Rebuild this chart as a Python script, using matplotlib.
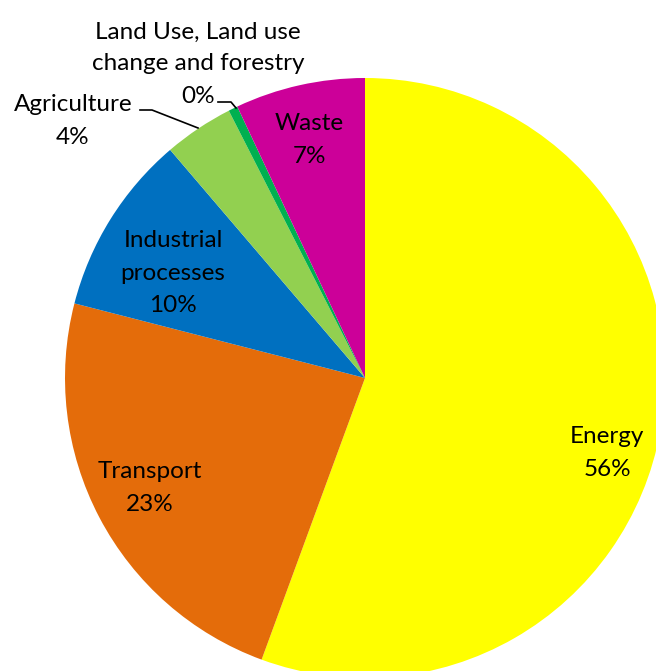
import matplotlib
matplotlib.use("Agg")
import matplotlib.pyplot as plt

categories = ["Energy", "Transport", "Industrial\nprocesses", "Agriculture",
              "Land Use, Land use\nchange and forestry", "Waste"]
values = [55.6, 23.4, 9.75, 3.75, 0.5, 7.0]
colors = ["#FFFF00", "#E46C0A", "#0070C0", "#92D050", "#00B050", "#CC0099"]

W, H = 656, 671
fig = plt.figure(figsize=(W / 100, H / 100), dpi=100)
ax = fig.add_axes([0, 0, 1, 1])
cx, cy, R = 365, H - 378, 300
ax.pie(values, colors=colors, startangle=90, counterclock=False,
       center=(cx, cy), radius=R, frame=True,
       wedgeprops=dict(linewidth=0))
ax.set_xlim(0, W)
ax.set_ylim(0, H)
ax.set_aspect("equal")
ax.axis("off")

font = dict(family=["Lato", "DejaVu Sans"], fontsize=17.5, color="black",
            ha="center", va="center", linespacing=1.65)

# label anchor positions (pixel, from top)
label_pos = [(607, 453), (150, 488), (173, 273), (73, 121), (198, 64), (309, 140)]
for name, v, (x, y) in zip(categories, values, label_pos):
    txt = f"{name}\n{round(v)}%"
    ax.text(x, H - y, txt, **font)

# leader lines
ax.plot([140, 152, 198], [H - 110, H - 110, H - 128], color="black", lw=1.2)
ax.plot([218, 231, 236], [H - 102, H - 102, H - 108], color="black", lw=1.2)

fig.savefig("out.png", dpi=100)
